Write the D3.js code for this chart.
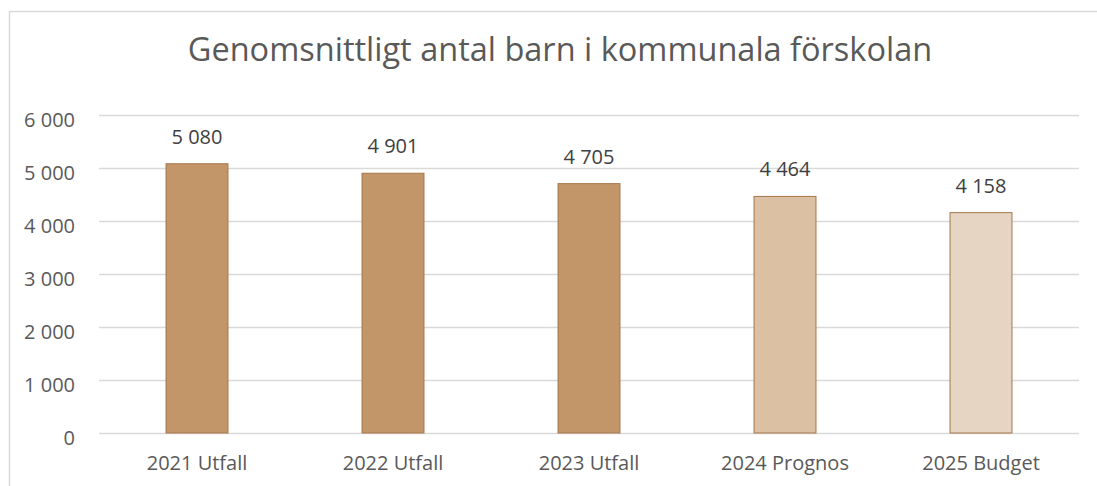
<!DOCTYPE html>
<html><head><meta charset="utf-8">
<script src="https://cdn.jsdelivr.net/npm/d3@7"></script>
<style>body{margin:0;background:#fff}svg{display:block}</style>
</head><body><svg id="c" width="1097" height="486"></svg>
<script>
const categories = ["2021 Utfall","2022 Utfall","2023 Utfall","2024 Prognos","2025 Budget"];
const values = [5080, 4901, 4705, 4464, 4158];
const barColors = ["#C39669","#C39669","#C39669","#DBC0A4","#E6D5C3"];
const yTicks = [0,1000,2000,3000,4000,5000,6000];
const title = "Genomsnittligt antal barn i kommunala förskolan";

const svg = d3.select("#c");
const font = "'Open Sans', sans-serif";
const fmt = v => d3.format(",")(v).replace(/,/g, "\u00a0");

// outer border (top and left)
svg.append("path").attr("d","M9.5,486 L9.5,11.5 L1097,11.5").attr("fill","none").attr("stroke","#d9d9d9").attr("stroke-width",1.5);

const x = d3.scaleBand().domain(categories).range([99,1079]).paddingInner(0.684).paddingOuter(0.342);
const y = d3.scaleLinear().domain([0,6000]).range([433,115]);

svg.append("text").attr("x",560).attr("y",61).attr("text-anchor","middle")
  .attr("font-family",font).attr("font-size",32.5).attr("fill","#595959").text(title);

const yAxis = d3.axisLeft(y).tickValues(yTicks).tickSize(-(1079-99)).tickFormat(fmt);
const gy = svg.append("g").attr("transform","translate(99,0)").call(yAxis);
gy.select(".domain").remove();
gy.selectAll(".tick line").attr("stroke","#d9d9d9").attr("stroke-width",1.5);
gy.selectAll(".tick text").attr("x",-24).attr("dy","0.55em").attr("y",0).attr("font-family",font).attr("font-size",20).attr("fill","#595959");

svg.selectAll("rect.bar").data(values).join("rect").attr("class","bar")
  .attr("x",(d,i)=>x(categories[i])).attr("width",x.bandwidth())
  .attr("y",d=>y(d)).attr("height",d=>y(0)-y(d))
  .attr("fill",(d,i)=>barColors[i]).attr("stroke","#A5764A").attr("stroke-width",1);

svg.selectAll("text.lbl").data(values).join("text").attr("class","lbl")
  .attr("x",(d,i)=>x(categories[i])+x.bandwidth()/2).attr("y",d=>y(d)-20)
  .attr("text-anchor","middle").attr("font-family",font).attr("font-size",20).attr("fill","#404040").text(fmt);

const xAxis = d3.axisBottom(x).tickSize(0);
const gx = svg.append("g").attr("transform","translate(0,433)").call(xAxis);
gx.select(".domain").remove();
gx.selectAll(".tick text").attr("dy",0).attr("y",37).attr("font-family",font).attr("font-size",20).attr("fill","#595959");
</script></body></html>
